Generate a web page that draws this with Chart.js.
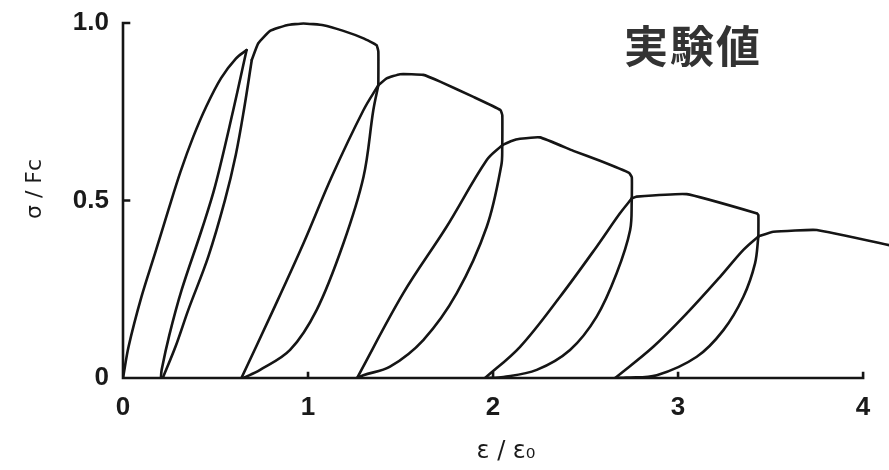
<!DOCTYPE html>
<html>
<head>
<meta charset="utf-8">
<title>実験値</title>
<script src="https://cdn.jsdelivr.net/npm/chart.js@4.4.1/dist/chart.umd.min.js"></script>
<style>
    html, body { margin: 0; padding: 0; background: #fff; }
    .wrap { position: relative; width: 889px; height: 470px; }
    .note {
        position: absolute;
        left: 624px;
        top: 12px;
        font: bold 44px 'Noto Sans CJK JP', sans-serif;
        color: #333;
        letter-spacing: 2px;
    }
</style>
</head>
<body>
<div class="wrap">
    <canvas id="myChart" width="889" height="470"></canvas>
    <div class="note">実験値</div>
</div>
<script>
// tick values of both axes
const xTicks = [0, 1, 2, 3, 4];
const yTicks = [0, 0.5, 1];
const yTickLabels = ['0', '0.5', '1.0'];

// [ε/ε0, σ/Fc] pairs, one array per branch
const firstLoading = [[0, 0], [0.03, 0.088], [0.10, 0.229], [0.173, 0.351], [0.245, 0.473], [0.31, 0.58], [0.38, 0.68], [0.45, 0.765], [0.53, 0.845], [0.61, 0.90], [0.668, 0.924]];

const unloading = [
    [[0.668, 0.924], [0.596, 0.755], [0.497, 0.539], [0.425, 0.417], [0.317, 0.248], [0.25, 0.12], [0.209, 0.023], [0.205, 0]],
    [[1.38, 0.825], [1.353, 0.755], [1.30, 0.567], [1.191, 0.379], [1.047, 0.192], [0.903, 0.079], [0.741, 0.023], [0.65, 0]],
    [[2.05, 0.656], [2.045, 0.60], [1.966, 0.426], [1.804, 0.239], [1.623, 0.107], [1.443, 0.032], [1.299, 0.008], [1.265, 0]],
    [[2.75, 0.506], [2.741, 0.417], [2.668, 0.295], [2.56, 0.173], [2.416, 0.079], [2.236, 0.023], [2.056, 0.003], [1.957, 0]],
    [[3.434, 0.399], [3.416, 0.323], [3.353, 0.229], [3.245, 0.135], [3.101, 0.06], [2.885, 0.008], [2.72, 0.001], [2.66, 0]]
];

const reloading = [
    [[0.215, 0], [0.285, 0.09], [0.353, 0.192], [0.461, 0.342], [0.551, 0.501], [0.61, 0.63], [0.655, 0.76], [0.696, 0.896]],
    [[0.64, 0], [0.812, 0.192], [0.975, 0.379], [1.128, 0.567], [1.30, 0.755], [1.38, 0.825]],
    [[1.265, 0], [1.515, 0.239], [1.749, 0.426], [1.966, 0.614], [2.05, 0.656]],
    [[1.957, 0], [2.146, 0.088], [2.362, 0.229], [2.56, 0.370], [2.686, 0.464], [2.75, 0.506]],
    [[2.66, 0], [2.866, 0.088], [3.047, 0.182], [3.227, 0.285], [3.353, 0.361], [3.434, 0.399]]
];

const envelope = [
    [[0.696, 0.896], [0.731, 0.943], [0.795, 0.978], [0.885, 0.994], [0.975, 0.999], [1.083, 0.994], [1.191, 0.978], [1.30, 0.957], [1.37, 0.938], [1.38, 0.92], [1.38, 0.825]],
    [[1.38, 0.825], [1.425, 0.844], [1.497, 0.856], [1.623, 0.854], [1.714, 0.835], [1.894, 0.792], [2.04, 0.755], [2.05, 0.74], [2.05, 0.656]],
    [[2.05, 0.656], [2.10, 0.668], [2.146, 0.674], [2.254, 0.678], [2.434, 0.640], [2.578, 0.612], [2.735, 0.578], [2.75, 0.565], [2.75, 0.506]],
    [[2.75, 0.506], [2.776, 0.511], [3.047, 0.518], [3.425, 0.464], [3.434, 0.459], [3.434, 0.399]],
    [[3.434, 0.399], [3.515, 0.412], [3.75, 0.417], [4.16, 0.372]]
];

const toPoints = arr => arr.map(p => ({x: p[0], y: p[1]}));

const branch = (arr, tension) => ({
    data: toPoints(arr),
    showLine: true,
    borderColor: '#151515',
    borderWidth: 2.6,
    pointRadius: 0,
    tension: tension,
    borderCapStyle: 'round',
    borderJoinStyle: 'round'
});

const datasets = [branch(firstLoading, 0.3)];
unloading.forEach(b => datasets.push(branch(b, 0.35)));
reloading.forEach(b => datasets.push(branch(b, 0.35)));
envelope.forEach(b => datasets.push(branch(b, 0.12)));

// axis lines stop at 4 and 1.0, with short ticks pointing inwards
const axisLines = {
    id: 'axisLines',
    afterDraw(chart) {
        const {ctx, scales: {x, y}} = chart;
        const x0 = x.getPixelForValue(0);
        const y0 = y.getPixelForValue(0);
        ctx.save();
        ctx.strokeStyle = '#151515';
        ctx.lineWidth = 2.6;
        ctx.lineCap = 'square';
        ctx.beginPath();
        ctx.moveTo(x0, y.getPixelForValue(1));
        ctx.lineTo(x0, y0);
        ctx.lineTo(x.getPixelForValue(4), y0);
        yTicks.forEach(v => {
            if (v > 0) {
                const py = y.getPixelForValue(v);
                ctx.moveTo(x0, py);
                ctx.lineTo(x0 + 6, py);
            }
        });
        xTicks.forEach(v => {
            if (v > 0) {
                const px = x.getPixelForValue(v);
                ctx.moveTo(px, y0);
                ctx.lineTo(px, y0 - 5);
            }
        });
        ctx.stroke();
        ctx.restore();
    }
};

const ctx = document.getElementById('myChart').getContext('2d');

new Chart(ctx, {
    type: 'scatter',
    data: { datasets: datasets },
    options: {
        responsive: false,
        animation: false,
        layout: { padding: 0 },
        plugins: {
            legend: { display: false },
            tooltip: { enabled: false }
        },
        scales: {
            x: {
                type: 'linear',
                min: 0,
                max: 4.14,
                border: { display: false },
                grid: { display: false, drawTicks: false },
                afterBuildTicks: s => { s.ticks = xTicks.map(v => ({value: v})); },
                afterFit: s => { s.height = 92; s.paddingLeft = 0; s.paddingRight = 0; },
                ticks: {
                    padding: 14,
                    color: '#1a1a1a',
                    autoSkip: false,
                    maxRotation: 0,
                    font: { family: 'Liberation Sans', size: 26, weight: 'bold' },
                    callback: v => String(v)
                },
                title: {
                    display: true,
                    text: 'ε / ε₀',
                    color: '#1a1a1a',
                    padding: { top: 0, bottom: 4 },
                    font: { family: 'DejaVu Sans', size: 24 }
                }
            },
            y: {
                type: 'linear',
                min: 0,
                max: 1.065,
                border: { display: false },
                grid: { display: false, drawTicks: false },
                afterBuildTicks: s => { s.ticks = yTicks.map(v => ({value: v})); },
                afterFit: s => { s.width = 123; s.paddingTop = 0; s.paddingBottom = 0; },
                ticks: {
                    padding: 14,
                    color: '#1a1a1a',
                    autoSkip: false,
                    font: { family: 'Liberation Sans', size: 26, weight: 'bold' },
                    callback: v => yTickLabels[yTicks.indexOf(v)]
                },
                title: {
                    display: true,
                    text: 'σ / Fc',
                    color: '#1a1a1a',
                    padding: { top: 22, bottom: 0 },
                    font: { family: 'DejaVu Sans', size: 22 }
                }
            }
        }
    },
    plugins: [axisLines]
});
</script>
</body>
</html>
